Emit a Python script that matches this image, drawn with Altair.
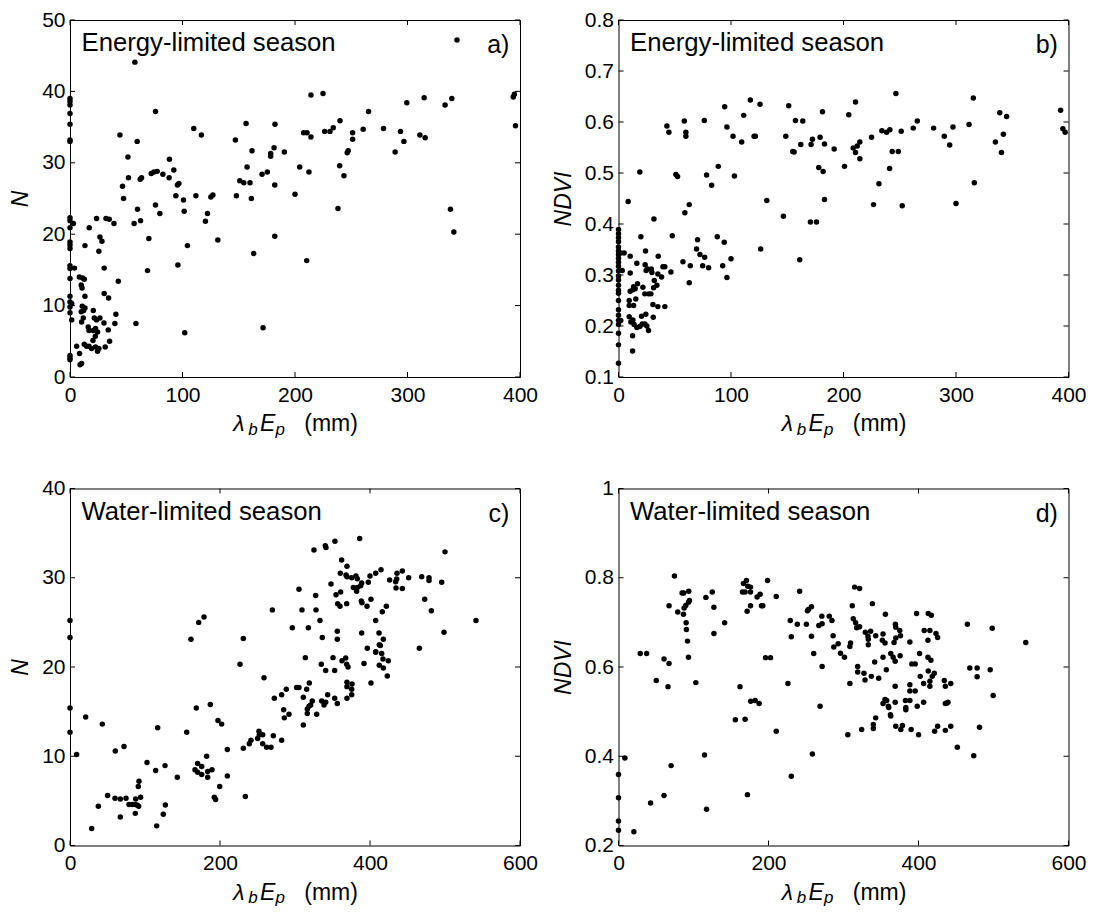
import altair as alt
import pandas as pd

FONT = "Liberation Sans"
W, H = 450, 357

# ---------------- data ----------------
# panel a: lambda_b*E_p (mm) vs N, energy-limited season
a_pts = [
    (344, 47.2), (57.7, 44.1), (0, 39.0), (0, 38.6), (0, 38.1), (0, 36.9), (0, 35.4), (0, 33.2), (0, 33.0),
    (76, 37.2), (214.2, 39.5), (224.9, 39.7), (299.4, 38.4), (314.8, 39.1), (333.4, 38.1), (339.4, 39.0),
    (265.4, 37.2), (44.4, 33.9), (59.7, 33.0), (110, 34.8), (116.8, 33.9), (147, 33.2), (156.5, 35.5),
    (182.2, 35.4), (161.8, 31.7), (181.4, 32.1), (178.4, 31.3), (178.4, 30.9), (190.5, 31.5), (207.7, 34.2),
    (210.7, 34.2), (214.2, 33.6), (226.4, 34.4), (231.1, 34.4), (234, 34.9), (240, 35.9), (251.2, 34.2),
    (251.2, 33.3), (247.3, 31.7), (246.4, 31.4), (260.6, 34.7), (278.7, 34.8), (293.8, 34.4), (296.8, 33.0),
    (289, 31.5), (311, 33.9), (315.7, 33.5), (338.2, 23.5), (341.2, 20.3), (88.4, 30.5), (92.3, 29.0),
    (72.2, 28.5), (74.6, 28.7), (77.5, 28.8), (82.6, 28.4), (88.1, 27.9), (51.5, 30.8), (52, 27.9),
    (62.4, 27.7), (63.6, 27.9), (46.7, 26.7), (47.6, 25.0), (60, 23.5), (62.7, 21.9), (57, 21.5), (76, 24.1),
    (79.9, 22.9), (95.5, 26.9), (96.8, 27.1), (94.1, 25.4), (100.9, 24.8), (101.5, 23.2), (111.9, 25.4),
    (125.2, 25.2), (127, 25.5), (122.2, 22.9), (120.4, 21.8), (147.9, 25.4), (150.9, 27.5), (154.5, 27.2),
    (160, 27.2), (157.4, 29.4), (161.2, 25.0), (170.7, 28.4), (175.4, 28.7), (182, 26.9), (182, 19.7),
    (200, 25.6), (204.2, 29.4), (212.4, 28.7), (239.7, 29.6), (243.5, 28.2), (238.2, 23.6), (23.6, 22.2),
    (32, 22.2), (34.9, 22.1), (39.1, 21.5), (17.1, 20.9), (26.6, 19.6), (70.1, 19.4), (0, 22.3), (0, 21.9),
    (3, 21.5), (0, 20.9), (131.4, 19.2),
    (0, 18.9), (0, 18.5), (0, 18.0), (13.3, 18.4), (25.7, 17.6), (28.4, 19.0), (104.4, 18.4), (163.3, 17.3),
    (210.4, 16.3), (0, 15.6), (0, 15.2), (4, 15.25), (30.4, 15.25), (68.9, 14.9), (95.9, 15.7), (0, 13.8),
    (8.3, 14.0), (11.2, 13.85), (12.7, 13.7), (10, 12.9), (10.7, 12.45), (13.3, 11.3), (30.4, 11.7),
    (34.3, 11.05), (42.9, 13.4), (0, 11.3), (0, 10.5), (1.5, 10.3), (0, 9.8), (0, 9.0), (1.5, 8.0),
    (10.9, 9.9), (13.3, 9.65), (12.1, 9.3), (10, 9.15), (11.8, 8.25), (10.3, 7.7), (20.7, 9.3), (21.6, 8.25),
    (23.6, 8.0), (26.6, 8.25), (30.2, 7.55), (34, 6.6), (39.9, 7.5), (40.8, 8.8), (16.2, 7.0), (16.9, 6.5),
    (20.7, 6.5), (22.7, 6.8), (24.5, 6.3), (22.5, 5.7), (20.4, 5.1), (12.7, 4.6), (14.7, 4.3), (16.9, 4.3),
    (19.2, 4.0), (22.7, 4.2), (25.7, 4.0), (24.5, 3.6), (31.3, 4.2), (35.2, 5.0), (5.9, 4.3), (8.5, 3.3),
    (0, 3.0), (0, 2.7), (0, 2.4), (8.9, 1.7), (10.3, 1.9), (58.6, 7.5), (102, 6.2), (171.6, 6.9),
    (394, 39.2), (395, 39.6), (396, 35.2),
]

# panel b: lambda_b*E_p (mm) vs NDVI, energy-limited season
b_pts = [
    (246.6, 0.656), (315.4, 0.647), (117.2, 0.643), (125.8, 0.635), (210.7, 0.639), (94.4, 0.630),
    (151.3, 0.632), (181.3, 0.620), (338.9, 0.618), (345, 0.611), (111.3, 0.613), (204.7, 0.614),
    (58.5, 0.602), (76.3, 0.603), (157.3, 0.603), (163.8, 0.602), (265.6, 0.602), (43, 0.592), (44.8, 0.580),
    (59.9, 0.580), (59.9, 0.572), (96.4, 0.590), (101.8, 0.572), (109.5, 0.561), (120.5, 0.572),
    (121.7, 0.572), (148.7, 0.572), (154.9, 0.542), (156.1, 0.541), (162, 0.556), (171.2, 0.556),
    (172.4, 0.566), (179.2, 0.570), (183.1, 0.557), (191.7, 0.547), (208.6, 0.549), (212.2, 0.553),
    (214.5, 0.561), (210.7, 0.540), (214.5, 0.528), (224.9, 0.570), (234.1, 0.583), (238.3, 0.580),
    (241.2, 0.585), (251.3, 0.582), (243.3, 0.542), (248.7, 0.542), (262, 0.588), (280.1, 0.588),
    (289.6, 0.572), (297.3, 0.590), (294.4, 0.555), (311.6, 0.595), (335, 0.561), (342.1, 0.576),
    (340.4, 0.540), (241, 0.509), (178, 0.511), (181.9, 0.503), (200.9, 0.513), (231.5, 0.479),
    (316.3, 0.481), (19, 0.502), (51, 0.497), (52.5, 0.493), (78.3, 0.496), (88.7, 0.513), (103, 0.494),
    (82.8, 0.476), (131.8, 0.446), (183.1, 0.448),
    (8.6, 0.444), (59, 0.422), (62.9, 0.438), (146.6, 0.415), (170.6, 0.404), (176, 0.404), (226.7, 0.438),
    (252.2, 0.436), (300, 0.440), (31.5, 0.410),
    (0, 0.389), (0, 0.381), (0, 0.373), (0, 0.365), (0, 0.355), (0, 0.347), (0, 0.340), (0, 0.333),
    (0, 0.325), (0, 0.317), (0, 0.308), (0, 0.298), (0, 0.290), (0, 0.280), (0, 0.270), (0, 0.264),
    (0, 0.250), (0, 0.232), (0, 0.221), (0, 0.211), (0, 0.203), (0, 0.186), (0, 0.163), (0, 0.127),
    (2, 0.343), (5, 0.343), (3.3, 0.309), (2, 0.211), (19.9, 0.375), (47.8, 0.377), (87.8, 0.375),
    (70.3, 0.369), (94, 0.364), (10.4, 0.337), (24, 0.347), (35.3, 0.337), (16.3, 0.323), (10.4, 0.304),
    (23.7, 0.320), (25.8, 0.312), (29.1, 0.312), (29.7, 0.305), (24.6, 0.309), (39.5, 0.316), (41.2, 0.316),
    (35, 0.302), (38.3, 0.296), (31.8, 0.289), (46.6, 0.306), (57.3, 0.326), (63.8, 0.318), (62.9, 0.285),
    (69.4, 0.351), (72.4, 0.340), (76.6, 0.335), (74.8, 0.318), (80.1, 0.314), (92.6, 0.318), (96.4, 0.295),
    (100, 0.332), (126.4, 0.351), (161.1, 0.330), (10.4, 0.268), (12.8, 0.271), (16.9, 0.283),
    (13.4, 0.277), (14.8, 0.273), (21.7, 0.276), (23.4, 0.263), (26.7, 0.263), (28.8, 0.263), (31.2, 0.275),
    (34.1, 0.280), (9.5, 0.240), (13.4, 0.240), (15.4, 0.253), (9.5, 0.250), (30.6, 0.242), (35, 0.238),
    (41.2, 0.238), (20.5, 0.219), (24.3, 0.223), (30.9, 0.217), (9.5, 0.218), (12.8, 0.212), (13.9, 0.203),
    (11, 0.208), (16.3, 0.197), (19, 0.199), (21.1, 0.204), (23.4, 0.204), (25.2, 0.200), (26.7, 0.191),
    (12.5, 0.181), (12.5, 0.151),
    (393, 0.623), (395, 0.587), (397, 0.580),
]

# panel c: lambda_b*E_p (mm) vs N, water-limited season
c_pts = [
    (386.2, 34.4), (353.3, 34.1), (340.4, 33.6), (341.3, 33.4), (325.3, 33.1), (500, 32.9), (362.2, 32.0),
    (369.3, 31.3), (360.4, 30.5), (368, 30.3), (369.3, 30.1), (375.6, 30.0), (381.3, 30.2), (383.1, 29.9),
    (400, 30.2), (407.6, 30.5), (414.7, 30.9), (397.8, 29.5), (388.9, 29.4), (387.6, 29.1), (383.1, 28.9),
    (377.8, 28.9), (382.2, 28.5), (426.2, 29.75), (434.2, 29.56), (435.6, 29.86), (436, 30.5),
    (443.1, 30.76), (451.6, 30.0), (468.9, 30.1), (478.7, 30.0), (478.7, 29.7), (495.6, 29.5),
    (434.7, 28.85), (443.1, 28.8), (472.9, 27.6), (481.8, 26.3), (498.7, 23.9), (465.8, 22.1),
    (541.3, 25.2), (348, 29.3), (360.9, 28.4), (354.7, 28.1), (305.3, 28.7), (327.6, 28.0), (356.9, 27.1),
    (360, 26.8), (368.9, 27.1), (388.4, 27.4), (389.3, 27.2), (401.3, 27.6), (396, 26.8), (421.8, 26.8),
    (416.4, 26.2), (269.8, 26.4), (309.3, 26.4), (328, 26.4), (333.3, 25.2), (407.6, 25.2), (296.4, 24.4),
    (317.8, 24.4), (336.4, 23.3), (356.4, 24.0), (356.4, 23.1), (388.9, 23.8), (412, 23.8), (417.8, 23.1),
    (412.4, 22.5), (413.8, 22.4), (396.4, 22.1), (407.6, 21.7), (0, 25.2), (0, 23.3), (171.6, 25.0),
    (178.7, 25.6), (161.3, 23.1), (231.1, 23.2),
    (313.8, 21.05), (350.7, 21.05), (367.6, 21.0), (362.7, 20.7), (368.9, 20.3), (370.7, 20.0),
    (335.1, 20.3), (340.9, 19.6), (352.9, 19.6), (407.6, 21.65), (415.6, 21.5), (417.3, 20.9),
    (412.4, 20.2), (417.8, 19.9), (424.4, 20.7), (392, 20.4), (226.7, 20.3), (258.7, 18.8), (423.1, 19.0),
    (401.3, 18.2), (369.3, 18.3), (376, 18.1), (375.6, 17.5), (369.3, 17.8), (375.6, 16.9), (369.3, 16.5),
    (352.9, 16.5), (356.4, 15.9), (343.6, 16.9), (335.6, 16.2), (338.7, 15.75), (340.9, 16.05),
    (323.1, 16.2), (320.9, 15.75), (318.7, 15.6), (316.4, 14.8), (328.9, 14.7), (311.1, 13.5), (316.4, 15.3),
    (319.1, 18.2), (315.6, 17.5), (311.1, 16.6), (305.3, 17.7), (302.2, 17.7), (288.4, 17.5), (282.2, 16.9),
    (272.4, 16.5), (284.9, 15.2), (285.8, 14.3), (292, 14.7), (252, 12.8), (252.4, 12.4), (256.9, 12.4),
    (250.2, 12.0), (256.9, 11.4), (262.2, 11.0), (268, 11.0), (271.1, 12.3), (282.2, 11.8), (241.3, 11.8),
    (239.1, 11.4), (231.1, 10.9), (209.8, 10.75), (209.8, 7.8), (197.3, 14.0), (202.2, 13.6), (187.1, 15.8),
    (168.4, 15.4), (155.6, 12.7), (182.2, 10.0), (170.2, 9.2), (175.6, 8.85), (166.7, 8.5), (170.2, 8.2),
    (175.6, 7.95), (183.6, 8.3), (189.3, 8.5), (183.6, 7.65), (199.6, 6.6), (192.4, 5.4), (194.2, 5.15),
    (233.8, 5.5), (143.1, 7.65), (126.7, 8.95), (114.2, 8.4), (102.7, 9.3), (116.9, 13.2), (0, 15.4),
    (0, 12.7), (8.9, 10.2), (20.9, 14.4), (43.1, 13.6), (60.4, 10.6), (72, 11.1), (50.2, 5.6), (60, 5.3),
    (67.1, 5.2), (74.7, 5.3), (37.8, 4.4), (28.9, 1.9), (67.1, 3.2), (78.7, 4.6), (83.1, 4.6), (87.1, 4.6),
    (87.6, 5.2), (91.6, 4.4), (94.2, 5.4), (91.1, 6.6), (92, 7.2), (87.1, 3.6), (89.8, 4.5), (115.6, 2.2),
    (124.4, 3.5), (127.1, 4.55),
]

# panel d: lambda_b*E_p (mm) vs NDVI, water-limited season
d_pts = [
    (74.6, 0.804), (170.6, 0.794), (166.6, 0.787), (172.4, 0.781), (176, 0.779), (165.3, 0.768),
    (168.8, 0.768), (176, 0.768), (184.8, 0.757), (188.8, 0.763), (171.5, 0.725), (176, 0.737),
    (190.7, 0.737), (192.4, 0.737), (198.7, 0.794), (210.3, 0.758), (241.5, 0.770), (84.8, 0.766),
    (87, 0.766), (93.7, 0.770), (94.6, 0.749), (93.3, 0.745), (89.7, 0.738), (87.5, 0.732), (86.6, 0.718),
    (90.2, 0.699), (90.6, 0.684), (92, 0.658), (67.4, 0.737), (79, 0.723), (116.5, 0.756), (125, 0.768),
    (127.2, 0.734), (127.2, 0.675), (141.5, 0.699), (314.8, 0.779), (321.5, 0.776), (311.7, 0.737),
    (338.5, 0.742), (313, 0.708), (316.2, 0.699), (321.5, 0.690), (317.5, 0.688), (329.1, 0.678),
    (336.2, 0.680), (332.6, 0.669), (333.1, 0.662), (333.1, 0.650), (342.9, 0.670), (352.7, 0.674),
    (351.8, 0.660), (355.4, 0.654), (355.9, 0.718), (369.2, 0.696), (369.7, 0.689), (375, 0.682),
    (375.9, 0.670), (369.7, 0.665), (367.4, 0.655), (388.5, 0.656), (397.4, 0.720), (413, 0.720),
    (417.1, 0.716), (407.6, 0.682), (415.2, 0.682), (412.6, 0.660), (423.3, 0.675), (425.5, 0.666),
    (465.2, 0.696), (498.3, 0.687), (229, 0.704), (238.4, 0.696), (250.5, 0.696), (230.4, 0.668),
    (251.9, 0.726), (253.3, 0.729), (257.3, 0.735), (257.3, 0.669), (267.1, 0.693), (271.1, 0.714),
    (271.5, 0.697), (281, 0.714), (284.6, 0.704), (286.2, 0.670), (292.9, 0.652), (287.1, 0.645),
    (308.5, 0.646), (309.4, 0.654),
    (29, 0.630), (37.5, 0.630), (60.7, 0.618), (67.4, 0.608), (93.3, 0.622), (50.4, 0.570), (66, 0.556),
    (103.1, 0.565), (196, 0.621), (202.7, 0.621), (260.3, 0.630), (271.5, 0.601), (225.9, 0.563),
    (268.8, 0.512), (162, 0.556), (176.3, 0.523), (182.2, 0.525), (187.5, 0.518), (155.8, 0.482),
    (168.8, 0.483), (210.3, 0.456), (258.5, 0.405), (230.4, 0.355), (171.9, 0.314), (117.4, 0.281),
    (114.7, 0.403), (8.5, 0.396), (0, 0.359), (0, 0.307), (0, 0.255), (0, 0.234), (20.5, 0.231),
    (42.8, 0.295), (60.7, 0.312), (70.1, 0.379), (296, 0.631), (301.3, 0.622), (318.9, 0.601),
    (318.9, 0.589), (327.3, 0.586), (328.7, 0.571), (337.1, 0.579), (346.9, 0.575), (341.6, 0.611),
    (352.7, 0.622), (357.1, 0.594), (308.5, 0.563), (305.8, 0.448), (324.2, 0.460), (339.8, 0.471),
    (339.8, 0.462), (342.9, 0.486), (352.7, 0.518), (355.4, 0.527), (357.6, 0.525), (359.8, 0.512),
    (360.3, 0.509), (363, 0.490), (362.6, 0.493), (363, 0.630), (366.2, 0.622), (368.9, 0.613),
    (375.5, 0.625), (368.9, 0.557), (368.9, 0.521), (369.7, 0.467), (376.4, 0.460), (378.6, 0.469),
    (382.6, 0.525), (383.1, 0.509), (383.1, 0.504), (388.5, 0.560), (388.5, 0.546), (388.5, 0.525),
    (391.1, 0.607), (395.6, 0.607), (395.6, 0.546), (398.3, 0.512), (390.2, 0.460), (400.1, 0.448),
    (401.4, 0.630), (402.3, 0.579), (406.8, 0.563), (406.8, 0.521), (412.6, 0.622), (416.6, 0.615),
    (413, 0.591), (415.2, 0.568), (415.2, 0.557), (421, 0.586), (418.3, 0.579), (425.5, 0.467),
    (421.5, 0.456), (434.4, 0.570), (435.8, 0.557), (443, 0.563), (437.6, 0.519), (435.8, 0.518),
    (439.3, 0.521), (435.8, 0.458), (443, 0.467), (451.8, 0.420), (468.4, 0.598), (478.2, 0.598),
    (478.2, 0.578), (495.6, 0.594), (481.3, 0.465), (473.7, 0.401), (499.6, 0.536), (543, 0.655),
]

a_xticks = [0, 100, 200, 300, 400]
a_yticks = [0, 10, 20, 30, 40, 50]
b_yticks = [0.1, 0.2, 0.3, 0.4, 0.5, 0.6, 0.7, 0.8]
c_xticks = [0, 200, 400, 600]
c_yticks = [0, 10, 20, 30, 40]
d_yticks = [0.2, 0.4, 0.6, 0.8, 1.0]

notes = ["Energy-limited season", "Energy-limited season", "Water-limited season", "Water-limited season"]
tags = ["a)", "b)", "c)", "d)"]


def txt(s, x, y, size, style="normal", align="left"):
    return alt.Chart(pd.DataFrame({"s": [s]})).mark_text(
        align=align, baseline="alphabetic", font=FONT, fontSize=size,
        fontStyle=style, color="black"
    ).encode(x=alt.value(x), y=alt.value(y), text="s:N")


def panel(pts, xdom, ydom, xticks, yticks, yfmt, ytitle, note, tag):
    df = pd.DataFrame(pts, columns=["x", "y"])
    xs = alt.Scale(domain=xdom, nice=False, zero=False)
    ys = alt.Scale(domain=ydom, nice=False, zero=False)

    def xaxis():
        return alt.Axis(values=xticks, title=None, ticks=False, tickSize=0, domain=False, grid=False,
                        labelFlush=False, labelOverlap=False, labelPadding=7, format="d")

    def yaxis():
        return alt.Axis(values=yticks, title=ytitle, ticks=False, tickSize=0, domain=False, grid=False,
                        labelFlush=False, labelOverlap=False, labelPadding=5, format=yfmt,
                        titleFontStyle="italic", titlePadding=9)

    dots = alt.Chart(df).mark_circle(size=30, color="black", opacity=1).encode(
        x=alt.X("x:Q", scale=xs, axis=xaxis(), title=None),
        y=alt.Y("y:Q", scale=ys, axis=yaxis(), title=ytitle),
    )
    xt = pd.DataFrame({"x": xticks})
    yt = pd.DataFrame({"y": yticks})
    tb = alt.Chart(xt).mark_rule(color="black", strokeWidth=1).encode(
        x=alt.X("x:Q", scale=xs, axis=xaxis(), title=None), y=alt.value(H), y2=alt.value(H - 5))
    tt = alt.Chart(xt).mark_rule(color="black", strokeWidth=1).encode(
        x=alt.X("x:Q", scale=xs, axis=xaxis(), title=None), y=alt.value(0), y2=alt.value(5))
    tl = alt.Chart(yt).mark_rule(color="black", strokeWidth=1).encode(
        y=alt.Y("y:Q", scale=ys, axis=yaxis(), title=ytitle), x=alt.value(0), x2=alt.value(5))
    tr = alt.Chart(yt).mark_rule(color="black", strokeWidth=1).encode(
        y=alt.Y("y:Q", scale=ys, axis=yaxis(), title=ytitle), x=alt.value(W), x2=alt.value(W - 5))
    base = H + 54
    layers = [
        dots, tb, tt, tl, tr,
        txt(note, 11.5, 31.4, 25.7),
        txt(tag, W - 10.6, 33, 25, align="right"),
        txt("λ", 163.3, base, 23, "italic"),
        txt("b", 178.3, base + 3.5, 17, "italic"),
        txt("E", 190, base, 23, "italic"),
        txt("p", 205.6, base + 3.5, 17, "italic"),
        txt("(mm)", 234.3, base, 23),
    ]
    return alt.layer(*layers).properties(width=W, height=H)


pa = panel(a_pts, [0, 400], [0, 50], a_xticks, a_yticks, "d", "N", notes[0], tags[0])
pb = panel(b_pts, [0, 400], [0.1, 0.8], a_xticks, b_yticks, ".1f", "NDVI", notes[1], tags[1])
pc = panel(c_pts, [0, 600], [0, 40], c_xticks, c_yticks, "d", "N", notes[2], tags[2])
pdd = panel(d_pts, [0, 600], [0.2, 1.0], c_xticks, d_yticks, ".1~f", "NDVI", notes[3], tags[3])

chart = alt.concat(pa, pb, pc, pdd, columns=2, spacing={"row": 111.5, "column": 98.5}).properties(
    bounds="flush",
    padding={"left": 1, "top": 0, "right": 0, "bottom": 0},
    background="white",
).configure_view(
    stroke="black", strokeWidth=1
).configure_axis(
    labelFont=FONT, labelFontSize=21, labelColor="black",
    titleFont=FONT, titleFontSize=23, titleColor="black", titleFontWeight="normal",
)

chart.save("out.html", embed_options={"renderer": "svg", "actions": False})
